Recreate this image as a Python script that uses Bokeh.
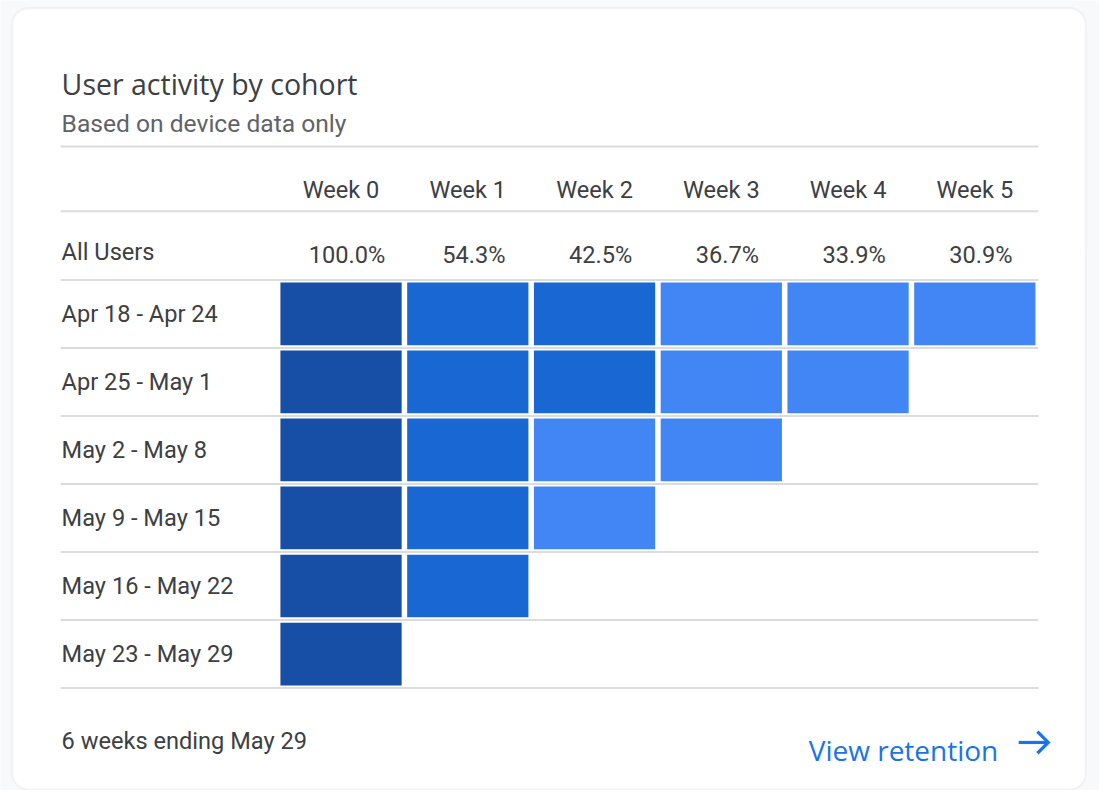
from bokeh.plotting import figure
from bokeh.models import Range1d, BoxAnnotation, ColumnDataSource
from bokeh.core.properties import value
from bokeh.embed import file_html
from bokeh.resources import INLINE

# ---------------- data ----------------
weeks = ["Week 0", "Week 1", "Week 2", "Week 3", "Week 4", "Week 5"]
all_users = [100.0, 54.3, 42.5, 36.7, 33.9, 30.9]
cohorts = ["Apr 18 - Apr 24", "Apr 25 - May 1", "May 2 - May 8",
           "May 9 - May 15", "May 16 - May 22", "May 23 - May 29"]
ret_apr18 = [100.0, 56.1, 46.3, 37.8, 34.2, 30.9]
ret_apr25 = [100.0, 54.8, 44.0, 36.9, 33.6]
ret_may02 = [100.0, 53.2, 39.5, 35.4]
ret_may09 = [100.0, 54.0, 38.9]
ret_may16 = [100.0, 52.9]
ret_may23 = [100.0]
retention = [ret_apr18, ret_apr25, ret_may02, ret_may09, ret_may16, ret_may23]

title = "User activity by cohort"
subtitle = "Based on device data only"
footer = "6 weeks ending May 29"
link = "View retention"

# ---------------- style ----------------
DARK, MID, LIGHT = "#174ea6", "#1967d2", "#4285f4"
TXT, SUB, RULE, LINK = "#3c4043", "#5f6368", "#dadce0", "#1a73e8"

def shade(v):
    if v >= 90:
        return DARK
    if v >= 40:
        return MID
    return LIGHT

W, H = 1099, 790
RW, RH = 1115, 806          # layout space (y downwards)
p = figure(width=W, height=H, output_backend="svg", toolbar_location=None,
           x_range=Range1d(0, RW), y_range=Range1d(RH, 0),
           x_axis_type=None, y_axis_type=None, min_border=0,
           background_fill_color="#f8f9fa", border_fill_color="#f8f9fa",
           outline_line_color=None)
p.grid.visible = False

# table scales: column index and cohort row index
COL0, CPITCH = 345.5, 128.6
ROW0, RPITCH = 319.75, 69.4
p.extra_x_ranges = {"col": Range1d((0 - COL0) / CPITCH, (RW - COL0) / CPITCH)}
p.extra_y_ranges = {"row": Range1d((RH - ROW0) / RPITCH, (0 - ROW0) / RPITCH)}

# card
p.add_layout(BoxAnnotation(left=12, right=1101, top=8, bottom=805,
                           fill_color="white", fill_alpha=1.0,
                           line_color=RULE, line_width=2, border_radius=16,
                           level="underlay"))

# header rules
p.segment(x0=[61, 61], x1=[1053, 1053], y0=[149, 215], y1=[149, 215],
          line_color=RULE, line_width=2)
# row rules
nr = len(cohorts)
p.segment(x0=[61] * (nr + 1), x1=[1053] * (nr + 1),
          y0=[r - 0.5 for r in range(nr + 1)], y1=[r - 0.5 for r in range(nr + 1)],
          y_range_name="row", line_color=RULE, line_width=2)

# cells
xs, ys, cs = [], [], []
for r, row in enumerate(retention):
    for c, v in enumerate(row):
        xs.append(c)
        ys.append(r)
        cs.append(shade(v))
src = ColumnDataSource(dict(x=xs, y=ys, color=cs))
p.rect(x="x", y="y", width=123 / CPITCH, height=64 / RPITCH,
       source=src, fill_color="color", line_color=None,
       x_range_name="col", y_range_name="row")

# texts
FS = "23.6px"
p.text(x=[62], y=[85], text=[title], text_font=value("Open Sans"),
       text_font_size="28.5px", text_color=TXT, text_baseline="alphabetic")
p.text(x=[62], y=[126], text=[subtitle], text_font=value("Roboto"),
       text_font_size="24.6px", text_color=SUB, text_baseline="alphabetic")

p.text(x=list(range(len(weeks))), y=[193] * len(weeks), text=weeks,
       x_range_name="col", text_font=value("Roboto"), text_font_size=FS,
       text_color=TXT, text_align="center", text_baseline="alphabetic")
p.text(x=[62], y=[257], text=["All Users"], text_font=value("Roboto"),
       text_font_size=FS, text_color=TXT, text_baseline="alphabetic")
p.text(x=list(range(len(all_users))), y=[260] * len(all_users),
       text=[f"{v:.1f}%" for v in all_users], x_offset=6,
       x_range_name="col", text_font=value("Roboto"), text_font_size=FS,
       text_color=TXT, text_align="center", text_baseline="alphabetic")
p.text(x=[62] * nr, y=list(range(nr)), text=cohorts, y_range_name="row",
       text_font=value("Roboto"), text_font_size=FS, text_color=TXT,
       text_baseline="middle")

p.text(x=[62], y=[755], text=[footer], text_font=value("Roboto"),
       text_font_size=FS, text_color=TXT, text_baseline="alphabetic")
p.text(x=[820], y=[765], text=[link], text_font=value("Open Sans"),
       text_font_size="28px", text_color=LINK, text_baseline="alphabetic")
# arrow icon
p.multi_line(xs=[[1033, 1063], [1052, 1063, 1052]], ys=[[757, 757], [746, 757, 768]],
             line_color=LINK, line_width=3.2, line_join="miter", line_cap="butt")

open("out.html", "w").write(file_html(p, INLINE))
